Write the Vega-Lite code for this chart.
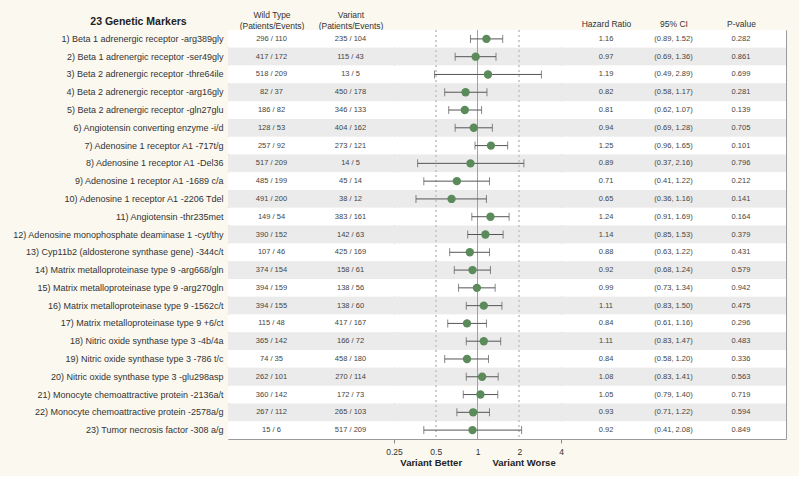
{
  "$schema": "https://vega.github.io/schema/vega-lite/v6.json",
  "background": "#fbf8f0",
  "padding": {"left": 11, "top": 10, "right": 12, "bottom": 8},
  "spacing": 0,
  "bounds": "flush",
  "config": {
    "font": "Liberation Sans",
    "view": {"stroke": "#9a9a9a", "strokeWidth": 1},
    "axis": {"labelFont": "Liberation Sans", "titleFont": "Liberation Sans"}
  },
  "datasets": {
    "rows": [
      {"no": 1, "label": "1) Beta 1 adrenergic receptor -arg389gly", "wt": "296 / 110", "var": "235 / 104", "hr": 1.16, "lo": 0.89, "hi": 1.52, "ci": "(0.89, 1.52)", "p": 0.282},
      {"no": 2, "label": "2) Beta 1 adrenergic receptor -ser49gly", "wt": "417 / 172", "var": "115 / 43", "hr": 0.97, "lo": 0.69, "hi": 1.36, "ci": "(0.69, 1.36)", "p": 0.861},
      {"no": 3, "label": "3) Beta 2 adrenergic receptor -thre64ile", "wt": "518 / 209", "var": "13 / 5", "hr": 1.19, "lo": 0.49, "hi": 2.89, "ci": "(0.49, 2.89)", "p": 0.699},
      {"no": 4, "label": "4) Beta 2 adrenergic receptor -arg16gly", "wt": "82 / 37", "var": "450 / 178", "hr": 0.82, "lo": 0.58, "hi": 1.17, "ci": "(0.58, 1.17)", "p": 0.281},
      {"no": 5, "label": "5) Beta 2 adrenergic receptor -gln27glu", "wt": "186 / 82", "var": "346 / 133", "hr": 0.81, "lo": 0.62, "hi": 1.07, "ci": "(0.62, 1.07)", "p": 0.139},
      {"no": 6, "label": "6) Angiotensin converting enzyme -i/d", "wt": "128 / 53", "var": "404 / 162", "hr": 0.94, "lo": 0.69, "hi": 1.28, "ci": "(0.69, 1.28)", "p": 0.705},
      {"no": 7, "label": "7) Adenosine 1 receptor A1 -717t/g", "wt": "257 / 92", "var": "273 / 121", "hr": 1.25, "lo": 0.96, "hi": 1.65, "ci": "(0.96, 1.65)", "p": 0.101},
      {"no": 8, "label": "8) Adenosine 1 receptor A1 -Del36", "wt": "517 / 209", "var": "14 / 5", "hr": 0.89, "lo": 0.37, "hi": 2.16, "ci": "(0.37, 2.16)", "p": 0.796},
      {"no": 9, "label": "9) Adenosine 1 receptor A1 -1689 c/a", "wt": "485 / 199", "var": "45 / 14", "hr": 0.71, "lo": 0.41, "hi": 1.22, "ci": "(0.41, 1.22)", "p": 0.212},
      {"no": 10, "label": "10) Adenosine 1 receptor A1 -2206 Tdel", "wt": "491 / 200", "var": "38 / 12", "hr": 0.65, "lo": 0.36, "hi": 1.16, "ci": "(0.36, 1.16)", "p": 0.141},
      {"no": 11, "label": "11) Angiotensin -thr235met", "wt": "149 / 54", "var": "383 / 161", "hr": 1.24, "lo": 0.91, "hi": 1.69, "ci": "(0.91, 1.69)", "p": 0.164},
      {"no": 12, "label": "12) Adenosine monophosphate deaminase 1 -cyt/thy", "wt": "390 / 152", "var": "142 / 63", "hr": 1.14, "lo": 0.85, "hi": 1.53, "ci": "(0.85, 1.53)", "p": 0.379},
      {"no": 13, "label": "13) Cyp11b2 (aldosterone synthase gene) -344c/t", "wt": "107 / 46", "var": "425 / 169", "hr": 0.88, "lo": 0.63, "hi": 1.22, "ci": "(0.63, 1.22)", "p": 0.431},
      {"no": 14, "label": "14) Matrix metalloproteinase type 9 -arg668/gln", "wt": "374 / 154", "var": "158 / 61", "hr": 0.92, "lo": 0.68, "hi": 1.24, "ci": "(0.68, 1.24)", "p": 0.579},
      {"no": 15, "label": "15) Matrix metalloproteinase type 9 -arg270gln", "wt": "394 / 159", "var": "138 / 56", "hr": 0.99, "lo": 0.73, "hi": 1.34, "ci": "(0.73, 1.34)", "p": 0.942},
      {"no": 16, "label": "16) Matrix metalloproteinase type 9 -1562c/t", "wt": "394 / 155", "var": "138 / 60", "hr": 1.11, "lo": 0.83, "hi": 1.50, "ci": "(0.83, 1.50)", "p": 0.475},
      {"no": 17, "label": "17) Matrix metalloproteinase type 9 +6/ct", "wt": "115 / 48", "var": "417 / 167", "hr": 0.84, "lo": 0.61, "hi": 1.16, "ci": "(0.61, 1.16)", "p": 0.296},
      {"no": 18, "label": "18) Nitric oxide synthase type 3 -4b/4a", "wt": "365 / 142", "var": "166 / 72", "hr": 1.11, "lo": 0.83, "hi": 1.47, "ci": "(0.83, 1.47)", "p": 0.483},
      {"no": 19, "label": "19) Nitric oxide synthase type 3 -786 t/c", "wt": "74 / 35", "var": "458 / 180", "hr": 0.84, "lo": 0.58, "hi": 1.20, "ci": "(0.58, 1.20)", "p": 0.336},
      {"no": 20, "label": "20) Nitric oxide synthase type 3 -glu298asp", "wt": "262 / 101", "var": "270 / 114", "hr": 1.08, "lo": 0.83, "hi": 1.41, "ci": "(0.83, 1.41)", "p": 0.563},
      {"no": 21, "label": "21) Monocyte chemoattractive protein -2136a/t", "wt": "360 / 142", "var": "172 / 73", "hr": 1.05, "lo": 0.79, "hi": 1.40, "ci": "(0.79, 1.40)", "p": 0.719},
      {"no": 22, "label": "22) Monocyte chemoattractive protein -2578a/g", "wt": "267 / 112", "var": "265 / 103", "hr": 0.93, "lo": 0.71, "hi": 1.22, "ci": "(0.71, 1.22)", "p": 0.594},
      {"no": 23, "label": "23) Tumor necrosis factor -308 a/g", "wt": "15 / 6", "var": "517 / 209", "hr": 0.92, "lo": 0.41, "hi": 2.08, "ci": "(0.41, 2.08)", "p": 0.849}
    ]
  },
  "data": {"name": "rows"},
  "hconcat": [
    {
      "width": 166,
      "height": 409,
      "layer": [
        {
          "mark": {"type": "rect"},
          "encoding": {
            "y": {"field": "label", "type": "nominal", "sort": null, "scale": {"paddingInner": 0, "paddingOuter": 0},
              "axis": {"orient": "left", "ticks": false, "domain": false, "labelFontSize": 9, "labelColor": "#333333", "labelPadding": 5, "labelLimit": 400,
                "title": "23 Genetic Markers", "titleAngle": 0, "titleAlign": "center", "titleBaseline": "middle", "titleX": -90, "titleY": -9,
                "titleFontSize": 10.5, "titleFontWeight": "bold", "titleColor": "#222222"}},
            "fill": {"condition": {"test": "datum.no % 2 == 0", "value": "#ebebeb"}, "value": "#ffffff"}
          }
        },
        {
          "transform": [{"fold": ["wt", "var"], "as": ["col", "txt"]}],
          "mark": {"type": "text", "fontSize": 7.5, "color": "#444444"},
          "encoding": {
            "y": {"field": "label", "type": "nominal", "sort": null},
            "x": {"field": "col", "type": "nominal", "sort": ["wt", "var"], "scale": {"type": "point", "padding": 0.5506},
              "axis": {"orient": "top", "ticks": false, "tickSize": 0, "domain": false, "title": null, "labelAngle": 0, "labelFontSize": 8.5, "labelColor": "#333333",
                "labelBaseline": "top", "labelPadding": 19.5, "labelLineHeight": 11,
                "labelExpr": "datum.value == 'wt' ? ['Wild Type', '(Patients/Events)'] : ['Variant', '(Patients/Events)']"}},
            "text": {"field": "txt", "type": "nominal"}
          }
        }
      ]
    },
    {
      "width": 167,
      "height": 409,
      "layer": [
        {
          "mark": {"type": "rect"},
          "encoding": {
            "y": {"field": "label", "type": "nominal", "sort": null, "scale": {"paddingInner": 0, "paddingOuter": 0}, "axis": null},
            "fill": {"condition": {"test": "datum.no % 2 == 0", "value": "#ebebeb"}, "value": "#ffffff"}
          }
        },
        {
          "mark": {"type": "circle", "size": 0, "opacity": 0},
          "encoding": {
            "x": {"field": "hr", "type": "quantitative", "scale": {"type": "log", "domain": [0.25, 4], "nice": false, "zero": false},
              "axis": {"orient": "bottom", "values": [0.25, 0.5, 1, 2, 4], "format": "~g", "grid": false, "domain": false,
                "tickSize": 4, "tickColor": "#888888",
                "tickOpacity": {"condition": {"test": "datum.value == 0.25 || datum.value == 4", "value": 1}, "value": 0},
                "labelFontSize": 8.5, "labelColor": "#333333", "labelPadding": 4, "labelFlush": false,
                "title": "Variant Better\u2003\u2003\u2003\u2009Variant Worse", "titleFontSize": 9.5, "titleFontWeight": "bold", "titleColor": "#222222", "titlePadding": 2}},
            "y": {"field": "label", "type": "nominal", "sort": null, "axis": null}
          }
        },
        {
          "mark": {"type": "rule", "color": "#cccccc", "strokeDash": [2, 3]},
          "encoding": {"x": {"datum": 0.5, "type": "quantitative"}}
        },
        {
          "mark": {"type": "rule", "color": "#cccccc", "strokeDash": [2, 3]},
          "encoding": {"x": {"datum": 2, "type": "quantitative"}}
        },
        {
          "mark": {"type": "rule", "color": "#a0a0a0"},
          "encoding": {"x": {"datum": 1, "type": "quantitative"}}
        },
        {
          "mark": {"type": "rule", "color": "#555555", "strokeWidth": 1},
          "encoding": {
            "x": {"field": "lo", "type": "quantitative"},
            "x2": {"field": "hi"},
            "y": {"field": "label", "type": "nominal", "sort": null, "axis": null}
          }
        },
        {
          "mark": {"type": "tick", "color": "#555555", "size": 8, "thickness": 1},
          "encoding": {
            "x": {"field": "lo", "type": "quantitative"},
            "y": {"field": "label", "type": "nominal", "sort": null, "axis": null}
          }
        },
        {
          "mark": {"type": "tick", "color": "#555555", "size": 8, "thickness": 1},
          "encoding": {
            "x": {"field": "hi", "type": "quantitative"},
            "y": {"field": "label", "type": "nominal", "sort": null, "axis": null}
          }
        },
        {
          "mark": {"type": "circle", "size": 70, "color": "#5b8a5b", "opacity": 1},
          "encoding": {
            "x": {"field": "hr", "type": "quantitative"},
            "y": {"field": "label", "type": "nominal", "sort": null, "axis": null}
          }
        }
      ]
    },
    {
      "width": 225,
      "height": 409,
      "layer": [
        {
          "mark": {"type": "rect"},
          "encoding": {
            "y": {"field": "label", "type": "nominal", "sort": null, "scale": {"paddingInner": 0, "paddingOuter": 0}, "axis": null},
            "fill": {"condition": {"test": "datum.no % 2 == 0", "value": "#ebebeb"}, "value": "#ffffff"}
          }
        },
        {
          "transform": [{"fold": ["hr", "ci", "p"], "as": ["col", "txt"]}],
          "mark": {"type": "text", "fontSize": 7.5, "color": "#444444"},
          "encoding": {
            "y": {"field": "label", "type": "nominal", "sort": null, "axis": null},
            "x": {"field": "col", "type": "nominal", "sort": ["hr", "ci", "p"], "scale": {"type": "point", "padding": 0.6667},
              "axis": {"orient": "top", "ticks": false, "tickSize": 0, "domain": false, "title": null, "labelAngle": 0, "labelFontSize": 8.5, "labelColor": "#333333", "labelPadding": 2,
                "labelExpr": "datum.value == 'hr' ? 'Hazard Ratio' : datum.value == 'ci' ? '95% CI' : 'P-value'"}},
            "text": {"field": "txt", "type": "nominal"}
          }
        }
      ]
    }
  ]
}
